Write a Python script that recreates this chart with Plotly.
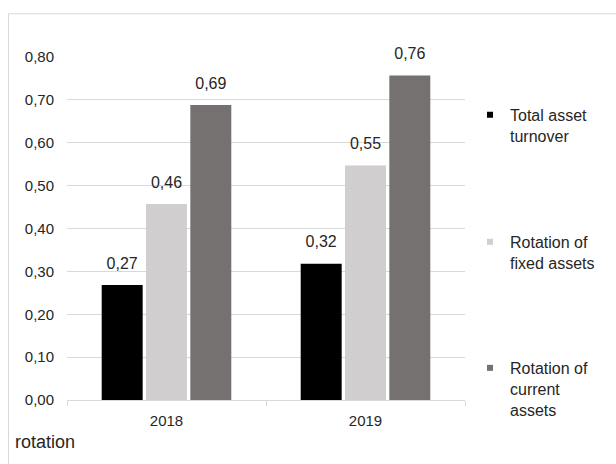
import plotly.graph_objects as go

years = ["2018", "2019"]
series_names = ["Total asset<br>turnover", "Rotation of<br>fixed assets", "Rotation of<br>current<br>assets"]
total_asset_turnover = [0.268, 0.318]
rotation_fixed_assets = [0.457, 0.547]
rotation_current_assets = [0.688, 0.757]
y_tick_values = [0, 0.1, 0.2, 0.3, 0.4, 0.5, 0.6, 0.7, 0.8]

series_values = [total_asset_turnover, rotation_fixed_assets, rotation_current_assets]
colors = ["#000000", "#d0cece", "#767171"]
legend_ids = ["legend", "legend2", "legend3"]
legend_y = [0.881, 0.5105, 0.143]

TEXT = "#262626"
FONT = "Liberation Sans, Arial, sans-serif"
GRID = "#d9d9d9"

fig = go.Figure()

for i, (name, vals, col) in enumerate(zip(series_names, series_values, colors)):
    fig.add_trace(go.Bar(
        x=years, y=vals, name=name, marker=dict(color=col, line=dict(width=0)),
        offsetgroup=str(i), showlegend=False, hoverinfo="skip",
    ))
    fig.add_trace(go.Scatter(
        x=years, y=vals, mode="markers+text", offsetgroup=str(i),
        marker=dict(size=18, color="rgba(0,0,0,0)"),
        text=[f"{v:.2f}".replace(".", ",") for v in vals],
        textposition="top center", cliponaxis=False,
        textfont=dict(size=16, color=TEXT, family=FONT),
        showlegend=False, hoverinfo="skip",
    ))
    fig.add_trace(go.Scatter(
        x=[None], y=[None], mode="markers", name=name,
        marker=dict(symbol="square", size=6, color=col),
        legend=legend_ids[i], showlegend=True, hoverinfo="skip",
    ))

legend_common = dict(
    x=1.0126, xanchor="left", yanchor="top", valign="top",
    font=dict(size=16, color=TEXT, family=FONT),
    bgcolor="rgba(0,0,0,0)", borderwidth=0, itemwidth=30,
)

fig.update_layout(
    width=616, height=464, autosize=False,
    margin=dict(l=67, r=151, t=57, b=64),
    paper_bgcolor="white", plot_bgcolor="white",
    separators=",.",
    barmode="group", bargap=0.332, bargroupgap=0.075,
    scattermode="group", scattergap=0.332,
    font=dict(family=FONT, size=15, color=TEXT),
    legend=dict(y=legend_y[0], **legend_common),
    legend2=dict(y=legend_y[1], **legend_common),
    legend3=dict(y=legend_y[2], **legend_common),
    xaxis=dict(
        showline=True, linecolor=GRID, linewidth=1,
        ticks="outside", tickson="boundaries", ticklen=5, tickcolor=GRID,
        tickfont=dict(size=15, color=TEXT), showgrid=False, ticklabelstandoff=7,
    ),
    yaxis=dict(
        range=[0, 0.8], tickvals=y_tick_values, tickformat=".2f",
        showgrid=True, gridcolor=GRID, gridwidth=1, zeroline=False,
        showline=False, ticks="", ticklabelstandoff=12,
        tickfont=dict(size=15, color=TEXT),
    ),
    shapes=[dict(
        type="rect", xref="paper", yref="paper",
        x0=-0.147, x1=1.6, y0=-0.6, y1=1.126,
        line=dict(color=GRID, width=1), fillcolor="rgba(0,0,0,0)", layer="below",
    )],
    annotations=[dict(
        text="rotation", xref="paper", yref="paper", x=-0.1357, y=-0.1224,
        xanchor="left", yanchor="middle", showarrow=False,
        font=dict(size=18, color=TEXT, family=FONT),
    )],
)

fig.write_html("out.html")
